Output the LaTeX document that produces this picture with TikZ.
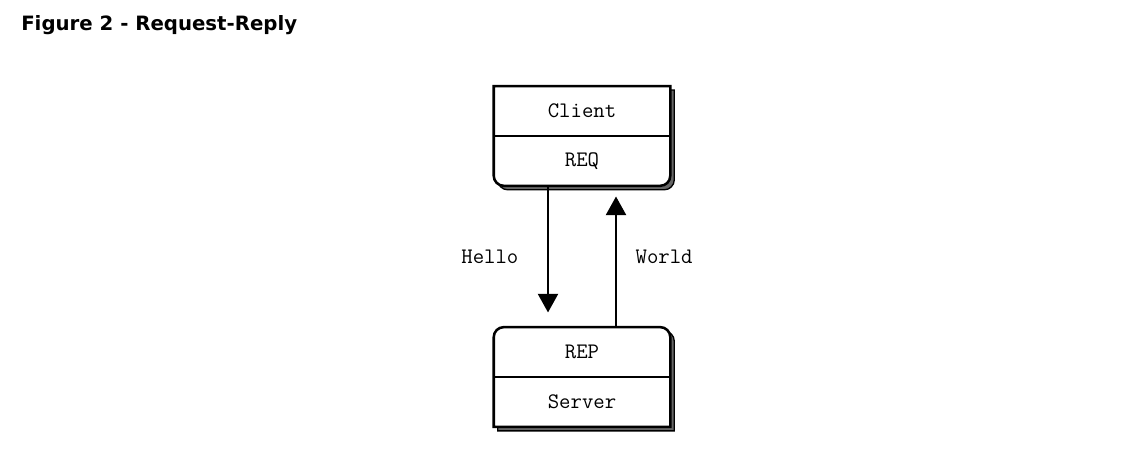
\documentclass[tikz,border=0pt]{standalone}
\usepackage{fontspec}
\newfontfamily\titlefont{DejaVu Sans}
\usetikzlibrary{positioning,arrows.meta,backgrounds}

\begin{document}
\begin{tikzpicture}[
  x=0.75pt, y=-0.75pt,
  >={Triangle[length=14pt,width=15pt]},
  node distance=106pt,
  cell/.style={minimum width=132pt, minimum height=37pt, inner sep=0pt, font=\ttfamily\fontsize{16.6}{18}\selectfont},
  boxline/.style={draw, line width=1.9pt},
  shadowed/.style={preaction={draw, line width=1pt, fill=black!60, transform canvas={shift={(3pt,-3pt)}}}},
  flow/.style={->, line width=1.8pt},
  lbl/.style={font=\ttfamily\fontsize{16.6}{18}\selectfont}
]
\useasboundingbox (0,0) rectangle (1127,450);
\node[anchor=west, inner sep=0pt, font=\titlefont\bfseries\fontsize{14.8}{18}\selectfont] (title) at (21,25.5) {Figure 2 - Request-Reply};

% the two sockets
\node[cell] (client) at (582,111) {Client};
\node[cell, below=0pt of client] (req) {REQ};
\node[cell, below=of req] (rep) {REP};
\node[cell, below=0pt of rep] (server) {Server};

\begin{pgfonlayer}{background}
\draw[boxline, fill=white, shadowed] (client.north west) -- (client.north east)
  -- ([yshift=7.5pt]req.south east) arc[start angle=0, end angle=-90, radius=7.5pt]
  -- ([xshift=7.5pt]req.south west) arc[start angle=-90, end angle=-180, radius=7.5pt] -- cycle;
\draw[boxline, fill=white, shadowed] (server.south west)
  -- ([yshift=-7.5pt]rep.north west) arc[start angle=180, end angle=90, radius=7.5pt]
  -- ([xshift=-7.5pt]rep.north east) arc[start angle=90, end angle=0, radius=7.5pt]
  -- (server.south east) -- cycle;
\end{pgfonlayer}
\draw[boxline] (client.south west) -- (client.south east);
\draw[boxline] (rep.south west) -- (rep.south east);

% messages
\draw[flow, shorten >=11pt] ([xshift=-25.5pt]req.south) -- node[lbl, left=18pt] (hello) {Hello} ([xshift=-25.5pt]rep.north);
\draw[flow, shorten >=8pt] ([xshift=25.5pt]rep.north) -- node[lbl, right=10.5pt] (world) {World} ([xshift=25.5pt]req.south);
\end{tikzpicture}
\end{document}
